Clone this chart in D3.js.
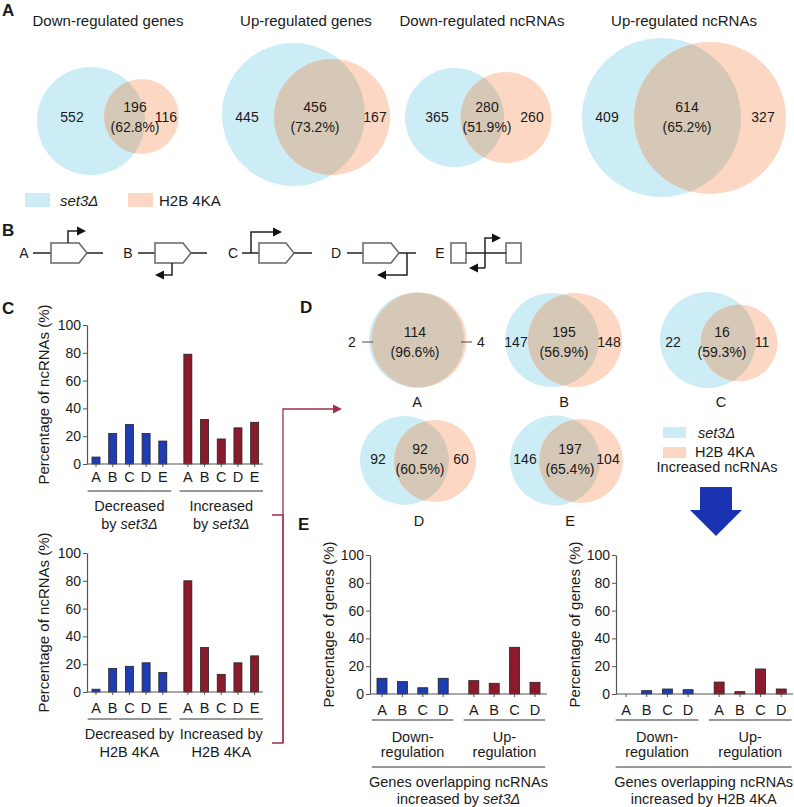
<!DOCTYPE html>
<html><head><meta charset="utf-8">
<script src="https://cdn.jsdelivr.net/npm/d3@7"></script>
<style>
body{margin:0;background:#fff}
svg{display:block}
text{font-family:"Liberation Sans",Arial,Helvetica,sans-serif;fill:#1a1a1a}
</style>
</head><body><svg id="c" width="794" height="807"></svg>
<script>
// ---------------- DATA ----------------
const vennATitles = ["Down-regulated genes","Up-regulated genes","Down-regulated ncRNAs","Up-regulated ncRNAs"];
const vennALeft = [552,445,365,409];
const vennAOverlap = [196,456,280,614];
const vennARight = [116,167,260,327];
const vennAPct = ["62.8%","73.2%","51.9%","65.2%"];

const ncCategories = ["A","B","C","D","E"];
const cTopDecreased = [5,22,28.5,22,16.5];
const cTopIncreased = [79,32,18,26,30];
const cBotDecreased = [2,17,18.5,21,14];
const cBotIncreased = [80,32,12.7,21,26];
const yTicks = [0,20,40,60,80,100];

const vennDCats = ["A","B","C","D","E"];
const vennDLeft = [2,147,22,92,146];
const vennDOverlap = [114,195,16,92,197];
const vennDRight = [4,148,11,60,104];
const vennDPct = ["96.6%","56.9%","59.3%","60.5%","65.4%"];

const geneCategories = ["A","B","C","D"];
const eSetDown = [11.3,8.9,4.5,11.3];
const eSetUp = [9.6,7.7,33.6,8.4];
const eH2bDown = [0,2.4,3.6,3.1];
const eH2bUp = [8.6,1.7,18,3.6];

// ---------------- STYLE ----------------
const BLUE_V = "rgb(205,237,246)", ORANGE_V = "rgb(252,215,195)", OVER_V = "rgb(214,200,182)";
const BAR_BLUE = "#1f3db3", BAR_RED = "#8c1a2d", DARK_RED = "#a03040";
const svg = d3.select("#c");
svg.append("rect").attr("width",794).attr("height",807).attr("fill","#fff");

function setText(sel, prefix, suffix){
  if(prefix) sel.append("tspan").text(prefix);
  sel.append("tspan").attr("font-style","italic").text("set3\u0394");
  if(suffix) sel.append("tspan").text(suffix);
}
function panelLabel(t,x,y){
  svg.append("text").attr("x",x).attr("y",y).attr("font-size",17).attr("font-weight","bold").text(t);
}

// ---------------- VENN ----------------
let clipId = 0;
function venn(g, b, o, left, over, pct, pos){
  const id = "vc"+(clipId++);
  g.append("clipPath").attr("id",id).append("circle").attr("cx",b[0]).attr("cy",b[1]).attr("r",b[2]);
  g.append("circle").attr("cx",b[0]).attr("cy",b[1]).attr("r",b[2]).attr("fill",BLUE_V);
  g.append("circle").attr("cx",o[0]).attr("cy",o[1]).attr("r",o[2]).attr("fill",ORANGE_V);
  g.append("circle").attr("cx",o[0]).attr("cy",o[1]).attr("r",o[2]).attr("fill",OVER_V).attr("clip-path",`url(#${id})`);
  const fs = 14;
  const t = (x,y,s)=>g.append("text").attr("x",x).attr("y",y).attr("text-anchor","middle")
      .attr("dominant-baseline","central").attr("font-size",fs).text(s);
  t(pos.l, pos.y, left);
  t(pos.m, pos.y-10, over);
  t(pos.m, pos.y+10, "("+pct+")");
  t(pos.r, pos.y, pos.rightOverride!==undefined ? pos.rightOverride : null);
  return t;
}

// Panel A
panelLabel("A",2,16);
const vennAGeo = [
  {b:[91,121,54], o:[141.5,116.5,37.5], l:72, m:135, r:166, tx:108},
  {b:[293.5,114.5,71.5], o:[332,117,58], l:247, m:315, r:375, tx:306},
  {b:[454.5,117.5,49.5], o:[506,117.5,45.5], l:437, m:487, r:532, tx:482},
  {b:[661.5,117.5,79.5], o:[710,118,76], l:607, m:687, r:763, tx:684}
];
const gA = svg.append("g");
vennATitles.forEach((title,i)=>{
  const G = vennAGeo[i];
  gA.append("text").attr("x",G.tx).attr("y",26).attr("text-anchor","middle").attr("font-size",15).text(title);
  const t = venn(gA, G.b, G.o, vennALeft[i], vennAOverlap[i], vennAPct[i], {l:G.l,m:G.m,r:G.r,y:117});
  gA.selectAll("text").filter(function(){return this.textContent==="";}).remove();
  t(G.r,117,vennARight[i]);
});
// legend A
gA.append("rect").attr("x",25).attr("y",193).attr("width",25).attr("height",14).attr("fill",BLUE_V);
setText(gA.append("text").attr("x",60).attr("y",200).attr("dominant-baseline","central").attr("font-size",15));
gA.append("rect").attr("x",128).attr("y",193).attr("width",25).attr("height",14).attr("fill",ORANGE_V);
gA.append("text").attr("x",159).attr("y",200).attr("dominant-baseline","central").attr("font-size",15).text("H2B 4KA");

// ---------------- PANEL B ----------------
panelLabel("B",2,236);
const gB = svg.append("g").attr("fill","none");
const YC = 253, BT = 243, BB = 263;
function arrowHead(x,y,dir){ // dir: 1 right, -1 left
  gB.append("path").attr("d",`M${x},${y-4.5} L${x+9*dir},${y} L${x},${y+4.5} Z`).attr("fill","#111").attr("stroke","none");
}
function geneBox(x1,x2){ // pentagon pointing right, x2 = tip
  gB.append("path").attr("d",`M${x1},${BT} H${x2-8} L${x2},${YC} L${x2-8},${BB} H${x1} Z`)
    .attr("fill","#fff").attr("stroke","#666").attr("stroke-width",1.5);
}
function line(d,w){ gB.append("path").attr("d",d).attr("stroke","#222").attr("stroke-width",w||1.3); }
function bLetter(t,x){ svg.append("text").attr("x",x).attr("y",YC).attr("dominant-baseline","central").attr("text-anchor","middle")
   .attr("font-size",14).attr("font-family","'Liberation Sans Narrow','DejaVu Sans Condensed',sans-serif").text(t); }
// A
bLetter("A",24); line(`M33,${YC}H103`); geneBox(51,87); line(`M68,${BT}V231H77`,1.5); arrowHead(77,231,1);
// B
bLetter("B",128); line(`M138,${YC}H207`); geneBox(155,191); line(`M172,${BB}V275H164`,1.5); arrowHead(164,275,-1);
// C
bLetter("C",233); line(`M242,${YC}H312`); geneBox(259,294); line(`M251,${YC}V232H273`,1.5); arrowHead(273,232,1);
// D
bLetter("D",336); line(`M347,${YC}H416`); geneBox(363,399); line(`M407,${YC}V275H386`,1.5); arrowHead(386,275,-1);
// E
bLetter("E",440);
gB.append("rect").attr("x",451).attr("y",BT).attr("width",15).attr("height",20).attr("fill","#fff").attr("stroke","#666").attr("stroke-width",1.5);
gB.append("rect").attr("x",506).attr("y",BT).attr("width",15).attr("height",20).attr("fill","#fff").attr("stroke","#666").attr("stroke-width",1.5);
line(`M466,${YC}H506`);
line(`M485,268V238H492`,1.5); arrowHead(492,238,1);
line(`M485,268H478`,1.5); arrowHead(478,268,-1);

// ---------------- BAR CHARTS ----------------
function barChart(cfg){
  const g = svg.append("g");
  const y = d3.scaleLinear().domain([0,100]).range([cfg.y0, cfg.y100]);
  const xi = d3.scaleLinear().domain([0,1]).range([cfg.firstX, cfg.firstX+cfg.step]);
  const n = cfg.cats.length;
  const gapIdx = n + 0.5;
  // axis
  const ax = g.append("g").attr("transform",`translate(${cfg.axisX},0)`)
    .call(d3.axisLeft(y).tickValues(yTicks).tickSize(4).tickPadding(2).tickSizeOuter(0));
  ax.select(".domain").attr("stroke","#555").attr("stroke-width",1.2);
  ax.selectAll(".tick line").attr("stroke","#555");
  ax.selectAll(".tick text").attr("font-size",14).attr("fill","#1a1a1a").attr("font-family","'Liberation Sans',Arial,sans-serif");
  // bars
  const series = [{vals:cfg.a, color:BAR_BLUE, off:0},{vals:cfg.b, color:BAR_RED, off:gapIdx}];
  series.forEach(s=>{
    s.vals.forEach((v,i)=>{
      const cx = xi(i+s.off);
      g.append("line").attr("x1",cx).attr("x2",cx).attr("y1",cfg.y0).attr("y2",cfg.y0+3).attr("stroke","#555");
      if(v>0) g.append("rect").attr("x",cx-cfg.bw/2).attr("y",y(v)).attr("width",cfg.bw).attr("height",cfg.y0-y(v))
        .attr("fill",s.color).attr("stroke","#222").attr("stroke-width",0.8);
      g.append("text").attr("x",cx).attr("y",cfg.letterY).attr("text-anchor","middle").attr("dominant-baseline","central")
        .attr("font-size",14.5).text(cfg.cats[i]);
    });
    const xa = xi(s.off-0.5), xb = xi(s.off+n-0.5);
    g.append("line").attr("x1",xa).attr("x2",xb).attr("y1",cfg.lineY).attr("y2",cfg.lineY).attr("stroke","#333").attr("stroke-width",1.1);
  });
  g.append("line").attr("x1",cfg.axisX).attr("x2",cfg.axisEnd).attr("y1",cfg.y0).attr("y2",cfg.y0).attr("stroke","#555").attr("stroke-width",1.2);
  // y label
  g.append("text").attr("transform",`translate(${cfg.ylabX},${(cfg.y0+cfg.y100)/2}) rotate(-90)`)
    .attr("text-anchor","middle").attr("dominant-baseline","central").attr("font-size",15).text(cfg.ylabel);
  // group labels
  const cA = (xi(-0.5)+xi(n-0.5))/2, cB = (xi(gapIdx-0.5)+xi(gapIdx+n-0.5))/2;
  cfg.groupLabels.forEach((lbl,k)=>{
    const cx = k===0?cA:cB;
    lbl.forEach((ln,j)=>{
      const t = g.append("text").attr("x",cx).attr("y",cfg.glY[j]).attr("text-anchor","middle").attr("dominant-baseline","central").attr("font-size",14.5);
      if(typeof ln==="string") t.text(ln); else setText(t, ln[0], ln[1]);
    });
  });
  return {g, xi};
}

// Panel C
panelLabel("C",2,314);
barChart({cats:ncCategories, a:cTopDecreased, b:cTopIncreased, axisX:87, axisEnd:263, y0:464, y100:325,
  firstX:96, step:16.7, bw:8, letterY:477, lineY:491, glY:[506,524], ylabX:43,
  ylabel:"Percentage of ncRNAs (%)", groupLabels:[["Decreased",["by ",""]],["Increased",["by ",""]]]});
barChart({cats:ncCategories, a:cBotDecreased, b:cBotIncreased, axisX:87, axisEnd:263, y0:692, y100:553,
  firstX:96, step:16.7, bw:8, letterY:708, lineY:719, glY:[734,752], ylabX:43,
  ylabel:"Percentage of ncRNAs (%)", groupLabels:[["Decreased by","H2B 4KA"],["Increased by","H2B 4KA"]]});

// connector
const gK = svg.append("g").attr("fill","none").attr("stroke",DARK_RED).attr("stroke-width",1.3);
gK.append("path").attr("d","M272,515H283V743H272");
gK.append("path").attr("d","M283,743V409H334");
svg.append("path").attr("d","M333,404.5L342,409L333,413.5Z").attr("fill",DARK_RED);

// ---------------- PANEL D ----------------
panelLabel("D",300,313);
const gD = svg.append("g");
const vennDGeo = [
  {b:[416.5,340,47.5], o:[419,340,47.5], l:352, m:415, r:481, y:342, cy:402, cx:417},
  {b:[552,340,47], o:[575,340,47], l:516, m:564, r:609, y:342, cy:402, cx:564},
  {b:[708,340,48], o:[739,343,38.5], l:673, m:722, r:762, y:342, cy:402, cx:721},
  {b:[404.5,460.5,44.5], o:[435,461,41], l:378, m:420, r:461, y:459, cy:521, cx:419},
  {b:[555,460.5,45], o:[581,461,42], l:525, m:570, r:608, y:459, cy:521, cx:570}
];
vennDCats.forEach((c,i)=>{
  const G = vennDGeo[i];
  const t = venn(gD, G.b, G.o, vennDLeft[i], vennDOverlap[i], vennDPct[i], {l:G.l,m:G.m,r:G.r,y:G.y});
  t(G.r, G.y, vennDRight[i]);
  gD.append("text").attr("x",G.cx).attr("y",G.cy).attr("text-anchor","middle").attr("dominant-baseline","central").attr("font-size",14.5).text(c);
});
gD.selectAll("text").filter(function(){return this.textContent==="";}).remove();
// leader lines for A
gD.append("line").attr("x1",362).attr("x2",373).attr("y1",342).attr("y2",342).attr("stroke","#444");
gD.append("line").attr("x1",461).attr("x2",472).attr("y1",342).attr("y2",342).attr("stroke","#444");
// legend D
gD.append("rect").attr("x",663).attr("y",427).attr("width",23).attr("height",11).attr("fill",BLUE_V);
setText(gD.append("text").attr("x",698).attr("y",433).attr("dominant-baseline","central").attr("font-size",14.5));
gD.append("rect").attr("x",663).attr("y",447).attr("width",23).attr("height",11).attr("fill",ORANGE_V);
gD.append("text").attr("x",695).attr("y",452).attr("dominant-baseline","central").attr("font-size",14.5).text("H2B 4KA");
gD.append("text").attr("x",717).attr("y",467).attr("text-anchor","middle").attr("dominant-baseline","central").attr("font-size",14.5).text("Increased ncRNAs");
// big arrow
gD.append("path").attr("d","M700,487H732V510H742L716,536L690,510H700Z").attr("fill","#1a33b2");

// ---------------- PANEL E ----------------
panelLabel("E",298,530);
function eChart(axisX, firstX, step, a, b, lastLine){
  const r = barChart({cats:geneCategories, a, b, axisX, axisEnd:axisX+177, y0:694, y100:555,
    firstX, step, bw:10, letterY:710, lineY:720, glY:[737,752], ylabX:axisX-42,
    ylabel:"Percentage of genes (%)", groupLabels:[["Down-","regulation"],["Up-","regulation"]]});
  const x1 = r.xi(-0.5), x2 = r.xi(4.5+3.5);
  r.g.append("line").attr("x1",x1).attr("x2",x2).attr("y1",767).attr("y2",767).attr("stroke","#333").attr("stroke-width",1.1);
  const cx = (x1+x2)/2;
  r.g.append("text").attr("x",cx).attr("y",782).attr("text-anchor","middle").attr("dominant-baseline","central").attr("font-size",14.5).text("Genes overlapping ncRNAs");
  const t = r.g.append("text").attr("x",cx).attr("y",799).attr("text-anchor","middle").attr("dominant-baseline","central").attr("font-size",14.5);
  lastLine(t);
}
eChart(370, 382, 20.4, eSetDown, eSetUp, t=>setText(t,"increased by ",""));
eChart(616, 626, 20.7, eH2bDown, eH2bUp, t=>t.text("increased by H2B 4KA"));
</script>
</body></html>
